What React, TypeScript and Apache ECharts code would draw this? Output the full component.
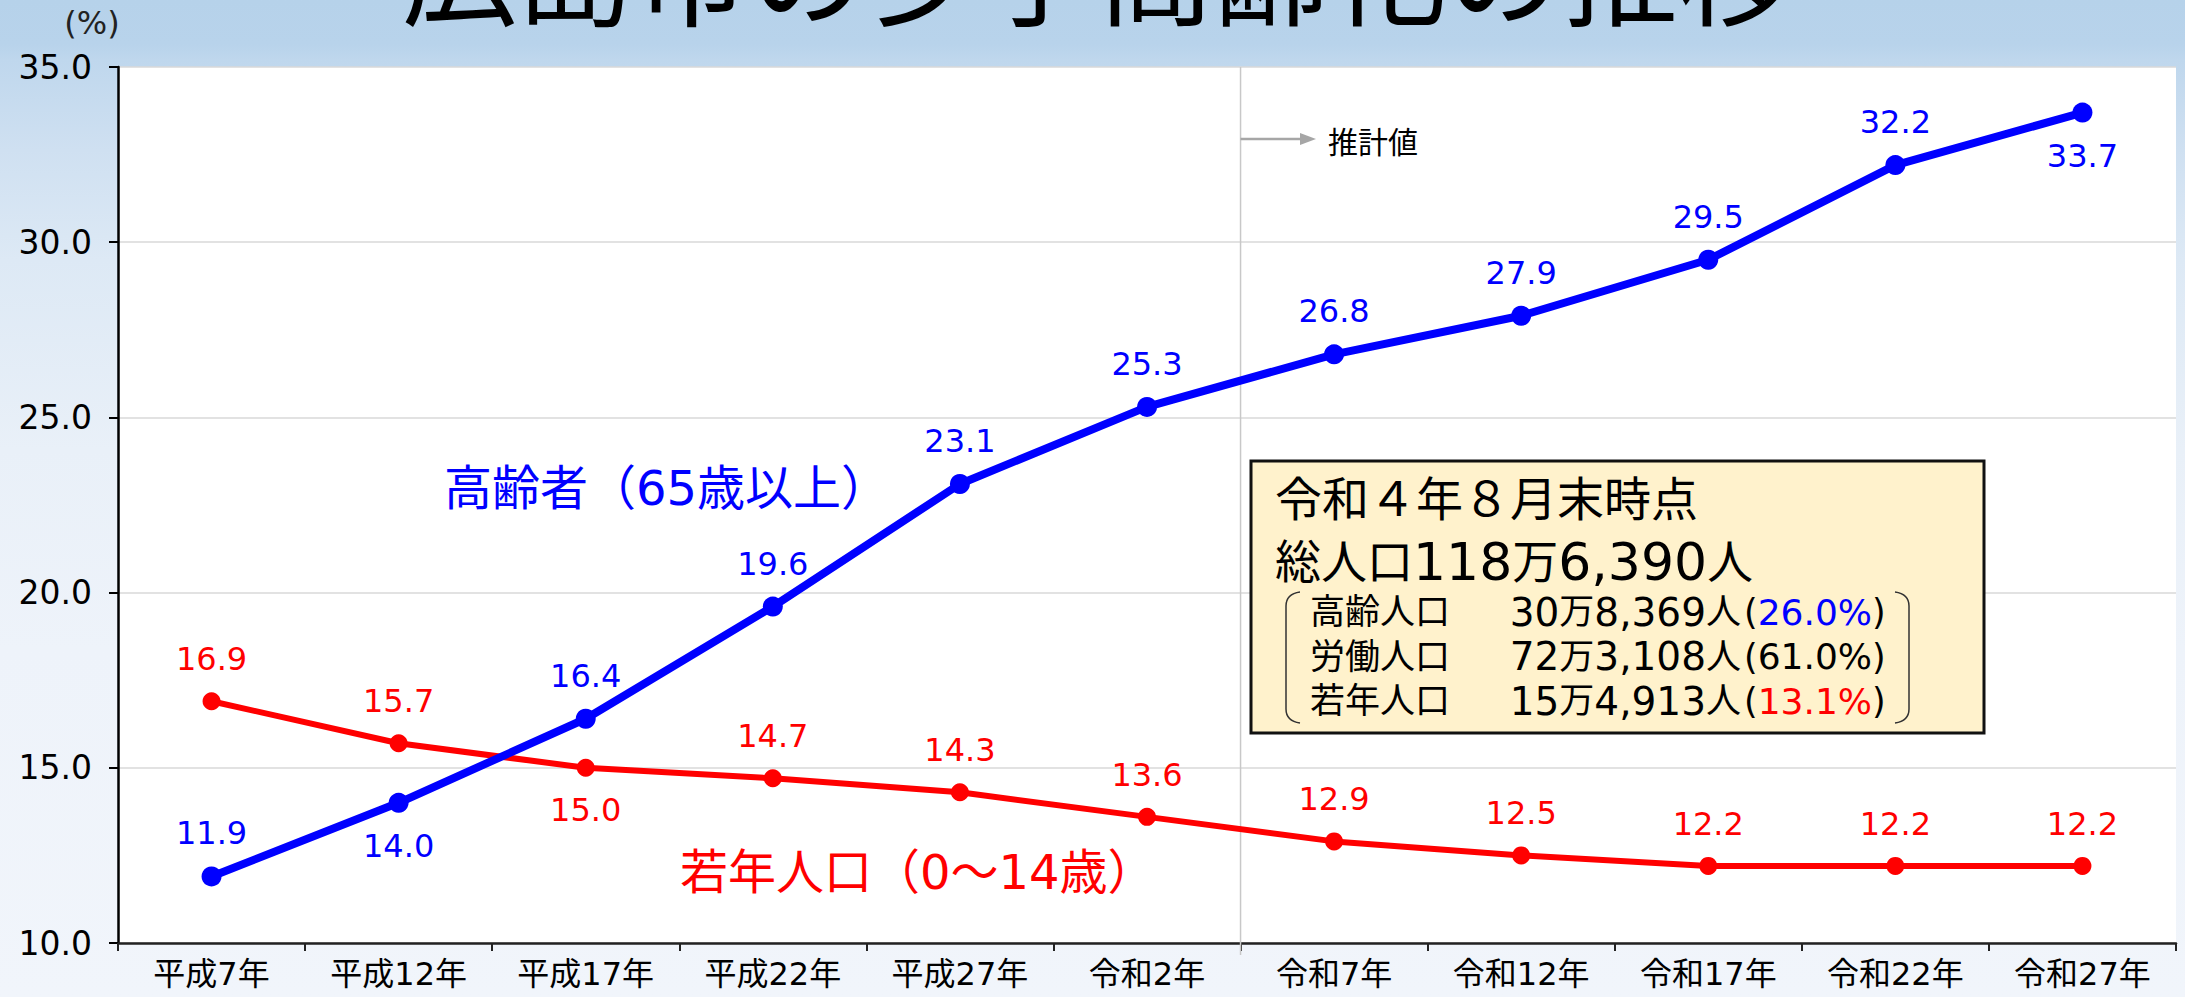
import React, { useEffect, useRef } from "react";
import * as echarts from "echarts";

const categories = ["平成7年", "平成12年", "平成17年", "平成22年", "平成27年", "令和2年", "令和7年", "令和12年", "令和17年", "令和22年", "令和27年"];
const elderly = [11.9, 14.0, 16.4, 19.6, 23.1, 25.3, 26.8, 27.9, 29.5, 32.2, 33.7];
const youth = [16.9, 15.7, 15.0, 14.7, 14.3, 13.6, 12.9, 12.5, 12.2, 12.2, 12.2];
const elderlyLabelBelow = [1, 10];
const youthLabelBelow = [2];
const yMin = 10;
const yMax = 35;
const yStep = 5;

const titleText = "広島市の少子高齢化の推移";
const elderlyName = "高齢者（65歳以上）";
const youthName = "若年人口（0～14歳）";
const estimateText = "推計値";
const boxLine1 = "令和４年８月末時点";
const boxLine2 = ["総人口", "118", "万", "6,390", "人"];
const boxRows = [
  { name: "高齢人口", count: ["30", "万", "8,369", "人"], pct: "26.0%", color: "#0000ff" },
  { name: "労働人口", count: ["72", "万", "3,108", "人"], pct: "61.0%", color: "#000000" },
  { name: "若年人口", count: ["15", "万", "4,913", "人"], pct: "13.1%", color: "#ff0000" },
];

const FONT = '"DejaVu Sans", "Noto Sans CJK JP", sans-serif';
const BLUE = "#0000ff";
const RED = "#ff0000";

const GRID = { left: 118, right: 9, top: 67, bottom: 54 };
const W = 2185;
const H = 997;

echarts.graphic.registerShape(
  "bracketL",
  echarts.graphic.extendPath("M14 0 Q0 2 0 14 L0 117 Q0 129 14 131", {})
);
echarts.graphic.registerShape(
  "bracketR",
  echarts.graphic.extendPath("M0 0 Q14 2 14 14 L14 117 Q14 129 0 131", {})
);

// build rich text alternating CJK (c) and digits (n)
const richJoin = (parts: string[]) =>
  parts.map((p) => (/[0-9]/.test(p) ? "{n|" + p + "}" : "{c|" + p + "}")).join("");

export default function App() {
  const ref = useRef<HTMLDivElement>(null);
  useEffect(() => {
    if (!ref.current) return;
    const chart = echarts.init(ref.current, null, { renderer: "svg" });
    const plotW = W - GRID.left - GRID.right;
    const boundaryX = GRID.left + (plotW * 6) / categories.length;

    const mk = (vals: number[], below: number[]) =>
      vals.map((v, i) => (below.includes(i) ? { value: v, label: { position: "bottom" } } : { value: v }));

    const labelCommon = {
      show: true,
      position: "top",
      distance: 17,
      fontSize: 32,
      fontFamily: FONT,
      formatter: (p: any) => Number(p.value).toFixed(1),
    };

    const graphics: any[] = [
      {
        type: "text",
        x: 1098,
        y: -24,
        silent: true,
        style: { text: titleText, fontSize: 116, fontFamily: FONT, fill: "#000", align: "center", verticalAlign: "middle" },
      },
      {
        type: "text",
        x: 92,
        y: 23,
        style: { text: "(%)", fontSize: 32, fontFamily: FONT, fill: "#222", align: "center", verticalAlign: "middle" },
      },
      {
        type: "line",
        z: 1,
        shape: { x1: boundaryX, y1: GRID.top, x2: boundaryX, y2: 955 },
        style: { stroke: "#c8c8c8", lineWidth: 1.5 },
      },
      {
        type: "line",
        z: 1,
        shape: { x1: boundaryX, y1: 139, x2: 1302, y2: 139 },
        style: { stroke: "#a6a6a6", lineWidth: 2.5 },
      },
      {
        type: "polygon",
        z: 1,
        shape: { points: [[1300, 133], [1316, 139], [1300, 145]] },
        style: { fill: "#a6a6a6" },
      },
      {
        type: "text",
        x: 1328,
        y: 142,
        style: { text: estimateText, fontSize: 30, fontFamily: FONT, fill: "#000", align: "left", verticalAlign: "middle" },
      },
      {
        type: "text",
        x: 444,
        y: 488,
        style: { text: elderlyName, fontSize: 48, fontFamily: FONT, fill: BLUE, align: "left", verticalAlign: "middle" },
      },
      {
        type: "text",
        x: 680,
        y: 872,
        style: { text: youthName, fontSize: 48, fontFamily: FONT, fill: RED, align: "left", verticalAlign: "middle" },
      },
      {
        type: "rect",
        z: 10,
        shape: { x: 1251, y: 461, width: 733, height: 272 },
        style: { fill: "#fff2cc", stroke: "#111", lineWidth: 3 },
      },
      {
        type: "text",
        z: 11,
        x: 1275,
        y: 499,
        style: { text: boxLine1, fontSize: 47, fontFamily: FONT, fill: "#000", align: "left", verticalAlign: "middle" },
      },
      {
        type: "text",
        z: 11,
        x: 1275,
        y: 562,
        style: {
          text: richJoin(boxLine2),
          fontFamily: FONT,
          fill: "#000",
          align: "left",
          verticalAlign: "middle",
          rich: {
            c: { fontSize: 46, fontFamily: FONT, fill: "#000" },
            n: { fontSize: 52, fontFamily: FONT, fill: "#000" },
          },
        },
      },
      {
        type: "bracketL",
        z: 11,
        x: 1286,
        y: 592,
        style: { fill: "none", stroke: "#333", lineWidth: 1.5 },
      },
      {
        type: "bracketR",
        z: 11,
        x: 1895,
        y: 592,
        style: { fill: "none", stroke: "#333", lineWidth: 1.5 },
      },
    ];

    boxRows.forEach((r, i) => {
      const y = 612 + i * 44.5;
      graphics.push(
        {
          type: "text",
          z: 11,
          x: 1310,
          y,
          style: { text: r.name, fontSize: 35, fontFamily: FONT, fill: "#000", align: "left", verticalAlign: "middle" },
        },
        {
          type: "text",
          z: 11,
          x: 1741,
          y,
          style: {
            text: richJoin(r.count),
            fontFamily: FONT,
            fill: "#000",
            align: "right",
            verticalAlign: "middle",
            rich: {
              c: { fontSize: 35, fontFamily: FONT, fill: "#000" },
              n: { fontSize: 39, fontFamily: FONT, fill: "#000" },
            },
          },
        },
        {
          type: "text",
          z: 11,
          x: 1744,
          y,
          style: {
            text: "{b|(}{p|" + r.pct + "}{b|)}",
            fontFamily: FONT,
            fill: "#000",
            align: "left",
            verticalAlign: "middle",
            rich: {
              b: { fontSize: 35, fontFamily: FONT, fill: "#000" },
              p: { fill: r.color, fontSize: 36, fontFamily: FONT },
            },
          },
        }
      );
    });

    chart.setOption({
      animation: false,
      backgroundColor: "transparent",
      grid: { ...GRID, show: true, backgroundColor: "#ffffff", borderWidth: 0 },
      xAxis: {
        type: "category",
        data: categories,
        boundaryGap: true,
        axisLine: { show: true, lineStyle: { color: "#222", width: 2.5 } },
        axisTick: { show: true, length: 8, lineStyle: { color: "#222", width: 2 } },
        axisLabel: { color: "#000", fontSize: 32, fontFamily: FONT, margin: 15, interval: 0 },
        splitLine: { show: false },
      },
      yAxis: {
        type: "value",
        min: yMin,
        max: yMax,
        interval: yStep,
        axisLine: { show: true, lineStyle: { color: "#000", width: 2.5 } },
        axisTick: { show: true, length: 9, lineStyle: { color: "#000", width: 2 } },
        axisLabel: {
          color: "#000",
          fontSize: 33,
          fontFamily: FONT,
          margin: 26,
          formatter: (v: number) => v.toFixed(1),
        },
        splitLine: { show: true, lineStyle: { color: "#d9d9d9", width: 1.5 } },
      },
      series: [
        {
          type: "line",
          name: "若年人口",
          data: mk(youth, youthLabelBelow),
          symbol: "circle",
          symbolSize: 18,
          lineStyle: { color: RED, width: 6 },
          itemStyle: { color: RED },
          label: { ...labelCommon, color: RED },
          z: 3,
        },
        {
          type: "line",
          name: "高齢者",
          data: mk(elderly, elderlyLabelBelow),
          symbol: "circle",
          symbolSize: 20,
          lineStyle: { color: BLUE, width: 8 },
          itemStyle: { color: BLUE },
          label: { ...labelCommon, color: BLUE },
          z: 4,
        },
      ],
      graphic: graphics,
    });
    return () => chart.dispose();
  }, []);

  return (
    <div
      style={{
        position: "absolute",
        left: 0,
        top: 0,
        width: W,
        height: H,
        overflow: "hidden",
        background:
          "linear-gradient(to bottom, #b6d2ea 0px, #b8d3eb 44px, #bfd7ed 60px, #cfe0f1 150px, #dde9f5 260px, #e9f0f8 450px, #eef3fa 650px, #f1f5fb 997px)",
      }}
    >
      <div ref={ref} style={{ width: W, height: H }} />
    </div>
  );
}
